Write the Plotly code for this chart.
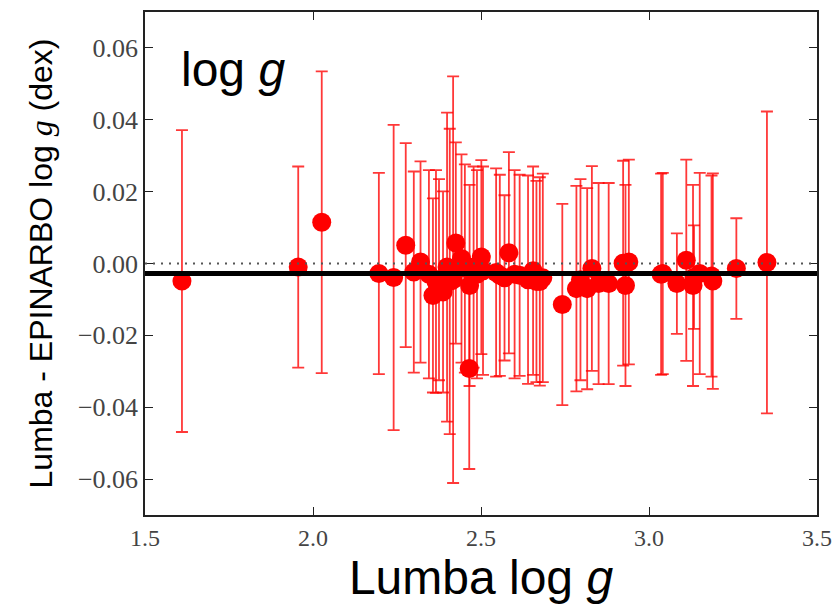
import plotly.graph_objects as go

# Lumba log g (x), Lumba - EPINARBO log g difference (y) and its uncertainty
lumba_logg = [1.610, 1.956, 2.026, 2.196, 2.240, 2.276, 2.300, 2.320, 2.345, 2.357,
              2.366, 2.375, 2.387, 2.399, 2.407, 2.417, 2.425, 2.442, 2.452, 2.465,
              2.466, 2.478, 2.488, 2.501, 2.506, 2.545, 2.556, 2.570, 2.583, 2.600,
              2.615, 2.640, 2.655, 2.665, 2.675, 2.684, 2.742, 2.784, 2.796, 2.816,
              2.830, 2.850, 2.880, 2.923, 2.930, 2.940, 3.036, 3.041, 3.083, 3.111,
              3.131, 3.134, 3.151, 3.186, 3.190, 3.260, 3.351]
delta_logg = [-0.0049, -0.0010, 0.0115, -0.0028, -0.0039, 0.0051, -0.0024, 0.0004, -0.0030, -0.0089,
              -0.0050, -0.0045, -0.0079, -0.0010, -0.0050, -0.0045, 0.0057, 0.0014, -0.0014, -0.0292,
              -0.0061, -0.0010, -0.0030, 0.0018, -0.0020, -0.0025, -0.0033, -0.0040, 0.0030, -0.0030,
              -0.0033, -0.0045, -0.0020, -0.0050, -0.0050, -0.0040, -0.0114, -0.0070, -0.0045, -0.0070,
              -0.0014, -0.0056, -0.0056, 0.0001, -0.0061, 0.0004, -0.0030, -0.0028, -0.0056, 0.0009,
              -0.0061, -0.0038, -0.0028, -0.0035, -0.0049, -0.0014, 0.0003]
delta_err = [0.042, 0.028, 0.042, 0.028, 0.0425, 0.0284, 0.028, 0.028, 0.029, 0.027,
             0.031, 0.028, 0.028, 0.043, 0.0425, 0.0566, 0.028, 0.029, 0.029, 0.028,
             0.028, 0.028, 0.029, 0.027, 0.029, 0.029, 0.028, 0.023, 0.028, 0.029,
             0.028, 0.029, 0.029, 0.028, 0.029, 0.029, 0.028, 0.0286, 0.028, 0.028,
             0.0285, 0.028, 0.028, 0.0285, 0.028, 0.0285, 0.028, 0.028, 0.014, 0.028,
             0.028, 0.0144, 0.028, 0.028, 0.030, 0.014, 0.042]
mean_offset = -0.0028

x_ticks = [1.5, 2.0, 2.5, 3.0, 3.5]
x_ticktext = ["1.5", "2.0", "2.5", "3.0", "3.5"]
y_ticks = [-0.06, -0.04, -0.02, 0.0, 0.02, 0.04, 0.06]
y_ticktext = ["\u22120.06", "\u22120.04", "\u22120.02", "0.00", "0.02", "0.04", "0.06"]

fig = go.Figure()
fig.add_trace(go.Scatter(
    x=lumba_logg, y=delta_logg, mode="markers",
    marker=dict(color="#ff0000", size=19, line=dict(width=0)),
    error_y=dict(type="data", array=delta_err, visible=True,
                 color="rgba(255,0,0,0.78)", thickness=1.8, width=6),
    showlegend=False,
))
fig.add_hline(y=0, line=dict(color="#555555", width=2, dash="2px,6px"), layer="above")
fig.add_hline(y=mean_offset, line=dict(color="black", width=5), layer="above")

fig.add_annotation(
    text="log <i>g</i>", xref="paper", yref="paper", x=0.05, y=0.885,
    xanchor="left", yanchor="middle", showarrow=False,
    font=dict(family="Liberation Sans", size=48, color="black"),
)

fig.update_xaxes(
    range=[1.5, 3.5], tickvals=x_ticks, ticktext=x_ticktext,
    ticks="inside", ticklen=8, tickwidth=1, tickcolor="#222",
    showline=True, linecolor="#222", linewidth=1.5, mirror="ticks",
    showgrid=False, zeroline=False,
    tickfont=dict(family="Liberation Serif", size=24, color="#444444"),
    title=dict(text="Lumba log <i>g</i>", standoff=10,
               font=dict(family="Liberation Sans", size=48, color="black")),
)
fig.update_yaxes(
    range=[-0.07, 0.07], tickvals=y_ticks, ticktext=y_ticktext,
    ticks="inside", ticklen=8, tickwidth=1, tickcolor="#222",
    showline=True, linecolor="#222", linewidth=1.5, mirror="ticks",
    showgrid=False, zeroline=False,
    tickfont=dict(family="Liberation Serif", size=26, color="#444444"),
    title=dict(text="Lumba - EPINARBO log <span style=\"font-family:'Liberation Serif'\"><i>g</i></span> (dex)",
               standoff=16,
               font=dict(family="Liberation Sans", size=32, color="black")),
)
fig.update_layout(
    width=835, height=609,
    margin=dict(l=145, r=18, t=12, b=94, autoexpand=False),
    plot_bgcolor="white", paper_bgcolor="white",
)
# remove the page's default body margin so the 835x609 figure fills the window exactly
fig.write_html("out.html", config={"displayModeBar": False},
               post_script="document.body.style.margin='0';document.body.style.overflow='hidden';")
